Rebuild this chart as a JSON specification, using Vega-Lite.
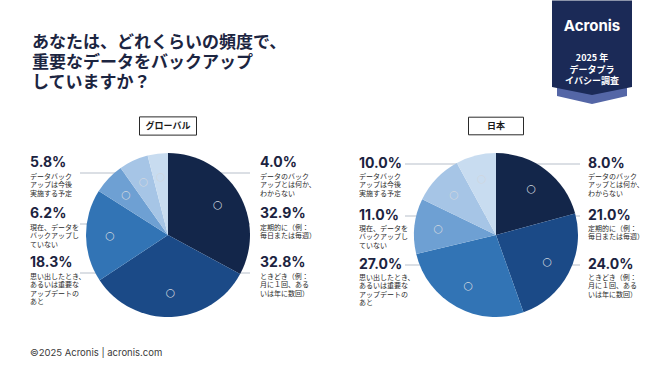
{
  "$schema": "https://vega.github.io/schema/vega-lite/v6.json",
  "background": "white",
  "padding": 0,
  "autosize": {"type": "pad"},
  "config": {"view": {"stroke": null}, "font": "Noto Sans CJK JP"},
  "datasets": {
    "pie": [
      {"region": "グローバル", "category": "定期的", "desc": "定期的に（例：\n毎日または毎週）", "share": 0.329, "order": 1, "side": "right", "slot": 2},
      {"region": "グローバル", "category": "ときどき", "desc": "ときどき（例：\n月に１回、ある\nいは年に数回）", "share": 0.328, "order": 2, "side": "right", "slot": 3},
      {"region": "グローバル", "category": "思い出したとき", "desc": "思い出したとき、\nあるいは重要な\nアップデートの\nあと", "share": 0.183, "order": 3, "side": "left", "slot": 3},
      {"region": "グローバル", "category": "現在していない", "desc": "現在、データを\nバックアップし\nていない", "share": 0.062, "order": 4, "side": "left", "slot": 2},
      {"region": "グローバル", "category": "今後実施予定", "desc": "データバック\nアップは今後\n実施する予定", "share": 0.058, "order": 5, "side": "left", "slot": 1},
      {"region": "グローバル", "category": "わからない", "desc": "データのバック\nアップとは何か、\nわからない", "share": 0.04, "order": 6, "side": "right", "slot": 1},
      {"region": "日本", "category": "定期的", "desc": "定期的に（例：\n毎日または毎週）", "share": 0.21, "order": 1, "side": "right", "slot": 2},
      {"region": "日本", "category": "ときどき", "desc": "ときどき（例：\n月に１回、ある\nいは年に数回）", "share": 0.24, "order": 2, "side": "right", "slot": 3},
      {"region": "日本", "category": "思い出したとき", "desc": "思い出したとき、\nあるいは重要な\nアップデートの\nあと", "share": 0.27, "order": 3, "side": "left", "slot": 3},
      {"region": "日本", "category": "現在していない", "desc": "現在、データを\nバックアップし\nていない", "share": 0.11, "order": 4, "side": "left", "slot": 2},
      {"region": "日本", "category": "今後実施予定", "desc": "データバック\nアップは今後\n実施する予定", "share": 0.1, "order": 5, "side": "left", "slot": 1},
      {"region": "日本", "category": "わからない", "desc": "データのバック\nアップとは何か、\nわからない", "share": 0.08, "order": 6, "side": "right", "slot": 1}
    ]
  },
  "spacing": 0,
  "vconcat": [
    {
      "hconcat": [
        {
          "width": 64, "height": 114,
          "data": {"values": [{"q": "あなたは、どれくらいの頻度で、\n重要なデータをバックアップ\nしていますか？"}]},
          "mark": {"type": "text", "align": "left", "baseline": "middle", "lineBreak": "\n", "fontSize": 17, "lineHeight": 20, "fontWeight": "bold", "color": "#1c2541", "font": "Noto Sans CJK JP", "dy": -14},
          "encoding": {"text": {"field": "q", "type": "nominal"}}
        },
        {
          "width": 80, "height": 105,
          "data": {"values": [{"brand": "Acronis", "survey": "2025 年\nデータプラ\nイバシー調査"}]},
          "layer": [
            {"mark": {"type": "point", "shape": "M-0.7,0.5L0.7,0.5L0.7,0.87L0,1.03L-0.7,0.87Z", "size": 10000, "filled": true, "color": "#5466a6", "opacity": 1, "strokeWidth": 0}, "encoding": {}},
            {"mark": {"type": "point", "shape": "M-0.8,-1.04L0.8,-1.04L0.8,0.69L0,0.85L-0.8,0.69Z", "size": 10000, "filled": true, "color": "#1b2a57", "opacity": 1, "strokeWidth": 0}, "encoding": {}},
            {"mark": {"type": "text", "fontSize": 15, "fontWeight": "bold", "color": "white", "dy": -27, "font": "Inter"}, "encoding": {"text": {"field": "brand", "type": "nominal"}}},
            {"mark": {"type": "text", "fontSize": 9, "lineHeight": 11.5, "lineBreak": "\n", "color": "white", "dy": 5.5, "fontWeight": "bold", "font": "Noto Sans CJK JP"}, "encoding": {"text": {"field": "survey", "type": "nominal"}}}
          ]
        }
      ],
      "spacing": 488,
      "bounds": "flush"
    },
    {
      "hconcat": [
        {
          "width": 336, "height": 236,
          "data": {"name": "pie"},
          "transform": [{"filter": "datum.region === 'グローバル'"}],
          "layer": [
            {
              "mark": {"type": "rule", "color": "#b7bfca", "strokeWidth": 1},
              "encoding": {
                "x": {"field": "side", "type": "nominal", "scale": {"type": "point", "domain": ["left", "center", "right"], "range": [80, 250], "padding": 0}, "axis": null},
                "x2": {"datum": "center"},
                "y": {"field": "slot", "type": "quantitative", "scale": {"type": "linear", "domain": [0, 1, 2, 3, 4], "range": [9, 56, 107, 156, 236], "zero": false, "nice": false}, "axis": null}
              }
            },
            {
              "mark": {"type": "arc", "outerRadius": 82, "strokeWidth": 0},
              "encoding": {
                "theta": {"field": "share", "type": "quantitative", "stack": true},
                "order": {"field": "order", "type": "quantitative"},
                "color": {"field": "category", "type": "nominal", "legend": null, "scale": {"domain": ["定期的", "ときどき", "思い出したとき", "現在していない", "今後実施予定", "わからない"], "range": ["#13264a", "#1b4a87", "#3274b5", "#6ea0d3", "#a6c5e6", "#c8dcf0"]}}
              }
            },
            {
              "mark": {"type": "text", "radius": 58, "text": "○", "fontSize": 11, "color": "#cfd6df", "font": "DejaVu Sans"},
              "encoding": {
                "theta": {"field": "share", "type": "quantitative", "stack": true},
                "order": {"field": "order", "type": "quantitative"}
              }
            },
            {
              "transform": [{"filter": "datum.side === 'left'"}],
              "mark": {"type": "text", "align": "left", "baseline": "middle", "fontSize": 14, "fontWeight": "bold", "font": "Inter", "color": "#1b2340", "dx": -50, "dy": -10},
              "encoding": {
                "x": {"field": "side", "type": "nominal"},
                "y": {"field": "slot", "type": "quantitative"},
                "text": {"field": "share", "type": "quantitative", "format": ".1%"}
              }
            },
            {
              "transform": [{"filter": "datum.side === 'right'"}],
              "mark": {"type": "text", "align": "left", "baseline": "middle", "fontSize": 14, "fontWeight": "bold", "font": "Inter", "color": "#1b2340", "dx": 10, "dy": -10},
              "encoding": {
                "x": {"field": "side", "type": "nominal"},
                "y": {"field": "slot", "type": "quantitative"},
                "text": {"field": "share", "type": "quantitative", "format": ".1%"}
              }
            },
            {
              "transform": [{"filter": "datum.side === 'left'"}],
              "mark": {"type": "text", "align": "left", "baseline": "top", "lineBreak": "\n", "fontSize": 7, "lineHeight": 8.3, "color": "#2a2a2a", "dx": -50, "dy": 0},
              "encoding": {
                "x": {"field": "side", "type": "nominal"},
                "y": {"field": "slot", "type": "quantitative"},
                "text": {"field": "desc", "type": "nominal"}
              }
            },
            {
              "transform": [{"filter": "datum.side === 'right'"}],
              "mark": {"type": "text", "align": "left", "baseline": "top", "lineBreak": "\n", "fontSize": 7, "lineHeight": 8.3, "color": "#2a2a2a", "dx": 10, "dy": 0},
              "encoding": {
                "x": {"field": "side", "type": "nominal"},
                "y": {"field": "slot", "type": "quantitative"},
                "text": {"field": "desc", "type": "nominal"}
              }
            },
            {
              "data": {"values": [{"h": "グローバル"}]},
              "mark": {"type": "point", "shape": "M-1,-0.32L1,-0.32L1,0.32L-1,0.32Z", "size": 3249, "filled": false, "color": "#2a2a2a", "strokeWidth": 1, "opacity": 1},
              "encoding": {"y": {"datum": 0, "type": "quantitative"}}
            },
            {
              "data": {"values": [{"h": "グローバル"}]},
              "mark": {"type": "text", "fontSize": 9, "fontWeight": "bold", "color": "#1a1a1a", "baseline": "middle"},
              "encoding": {"y": {"datum": 0, "type": "quantitative"}, "text": {"field": "h", "type": "nominal"}}
            },
            {
              "data": {"values": [{"f": "©2025 Acronis   |   acronis.com"}]},
              "mark": {"type": "text", "align": "left", "baseline": "middle", "fontSize": 9.5, "color": "#3a3a3a", "font": "Inter", "dx": -50},
              "encoding": {"x": {"datum": "left"}, "y": {"datum": 4, "type": "quantitative"}, "text": {"field": "f", "type": "nominal"}}
            }
          ]
        },
        {
          "width": 320, "height": 236,
          "data": {"name": "pie"},
          "transform": [{"filter": "datum.region === '日本'"}],
          "layer": [
            {
              "mark": {"type": "rule", "color": "#b7bfca", "strokeWidth": 1},
              "encoding": {
                "x": {"field": "side", "type": "nominal", "scale": {"type": "point", "domain": ["left", "center", "right"], "range": [69, 244], "padding": 0}, "axis": null},
                "x2": {"datum": "center"},
                "y": {"field": "slot", "type": "quantitative", "scale": {"type": "linear", "domain": [0, 1, 2, 3], "range": [9, 47, 99, 148], "zero": false, "nice": false}, "axis": null}
              }
            },
            {
              "mark": {"type": "arc", "outerRadius": 82, "strokeWidth": 0},
              "encoding": {
                "theta": {"field": "share", "type": "quantitative", "stack": true},
                "order": {"field": "order", "type": "quantitative"},
                "color": {"field": "category", "type": "nominal", "legend": null, "scale": {"domain": ["定期的", "ときどき", "思い出したとき", "現在していない", "今後実施予定", "わからない"], "range": ["#13264a", "#1b4a87", "#3274b5", "#6ea0d3", "#a6c5e6", "#c8dcf0"]}}
              }
            },
            {
              "mark": {"type": "text", "radius": 58, "text": "○", "fontSize": 11, "color": "#cfd6df", "font": "DejaVu Sans"},
              "encoding": {
                "theta": {"field": "share", "type": "quantitative", "stack": true},
                "order": {"field": "order", "type": "quantitative"}
              }
            },
            {
              "transform": [{"filter": "datum.side === 'left'"}],
              "mark": {"type": "text", "align": "left", "baseline": "middle", "fontSize": 14, "fontWeight": "bold", "font": "Inter", "color": "#1b2340", "dx": -46, "dy": 0},
              "encoding": {
                "x": {"field": "side", "type": "nominal"},
                "y": {"field": "slot", "type": "quantitative"},
                "text": {"field": "share", "type": "quantitative", "format": ".1%"}
              }
            },
            {
              "transform": [{"filter": "datum.side === 'right'"}],
              "mark": {"type": "text", "align": "left", "baseline": "middle", "fontSize": 14, "fontWeight": "bold", "font": "Inter", "color": "#1b2340", "dx": 8, "dy": 0},
              "encoding": {
                "x": {"field": "side", "type": "nominal"},
                "y": {"field": "slot", "type": "quantitative"},
                "text": {"field": "share", "type": "quantitative", "format": ".1%"}
              }
            },
            {
              "transform": [{"filter": "datum.side === 'left'"}],
              "mark": {"type": "text", "align": "left", "baseline": "top", "lineBreak": "\n", "fontSize": 7, "lineHeight": 8.3, "color": "#2a2a2a", "dx": -46, "dy": 9},
              "encoding": {
                "x": {"field": "side", "type": "nominal"},
                "y": {"field": "slot", "type": "quantitative"},
                "text": {"field": "desc", "type": "nominal"}
              }
            },
            {
              "transform": [{"filter": "datum.side === 'right'"}],
              "mark": {"type": "text", "align": "left", "baseline": "top", "lineBreak": "\n", "fontSize": 7, "lineHeight": 8.3, "color": "#2a2a2a", "dx": 8, "dy": 9},
              "encoding": {
                "x": {"field": "side", "type": "nominal"},
                "y": {"field": "slot", "type": "quantitative"},
                "text": {"field": "desc", "type": "nominal"}
              }
            },
            {
              "data": {"values": [{"h": "日本"}]},
              "mark": {"type": "point", "shape": "M-1,-0.32L1,-0.32L1,0.32L-1,0.32Z", "size": 3025, "filled": false, "color": "#2a2a2a", "strokeWidth": 1, "opacity": 1},
              "encoding": {"y": {"datum": 0, "type": "quantitative"}}
            },
            {
              "data": {"values": [{"h": "日本"}]},
              "mark": {"type": "text", "fontSize": 9, "fontWeight": "bold", "color": "#1a1a1a", "baseline": "middle"},
              "encoding": {"y": {"datum": 0, "type": "quantitative"}, "text": {"field": "h", "type": "nominal"}}
            }
          ]
        }
      ],
      "spacing": 0,
      "bounds": "flush",
      "resolve": {"scale": {"theta": "independent", "color": "shared"}}
    }
  ]
}
